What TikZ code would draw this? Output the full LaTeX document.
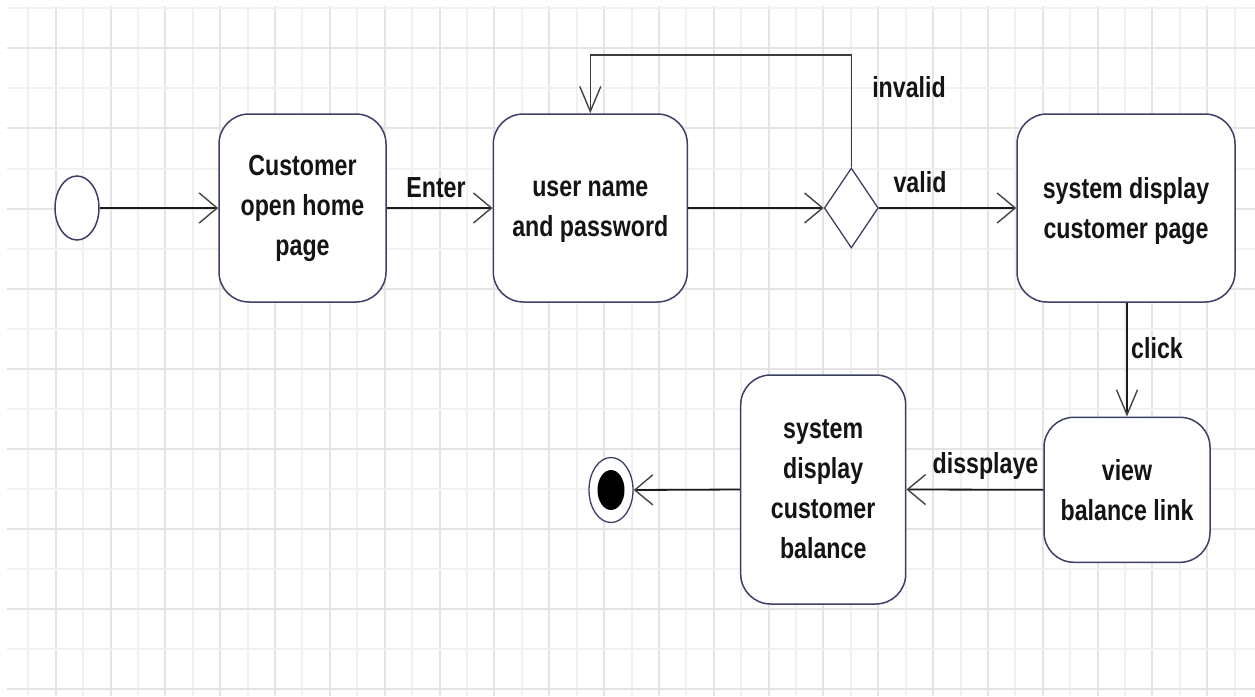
\documentclass[tikz,border=0pt]{standalone}
\usepackage{fontspec}
\newfontfamily\diagfont{Liberation Sans}[FakeStretch=0.8]
\usetikzlibrary{arrows.meta,shapes.geometric}

\definecolor{boxcol}{HTML}{3C4064}
\definecolor{linecol}{HTML}{1A1A1A}
\definecolor{tipcol}{HTML}{444444}
\definecolor{gridminor}{HTML}{F1F1F1}
\definecolor{gridmajor}{HTML}{E4E4E4}
\definecolor{textcol}{HTML}{141414}

\tikzset{
  activity/.style={draw=boxcol, line width=1.5pt, fill=white, rounded corners=30pt,
    align=center, inner sep=0pt, text=textcol,
    font=\diagfont\bfseries\fontsize{29}{40}\selectfont},
  lbl/.style={anchor=base, inner sep=0pt, text=textcol,
    font=\diagfont\bfseries\fontsize{29}{40}\selectfont},
  hflow/.style={draw=linecol, line width=1.8pt,
    -{Straight Barb[length=18pt,width=30pt,line width=1.4pt,color=tipcol]}},
  vflow/.style={draw=linecol, line width=1.6pt,
    -{Straight Barb[length=25pt,width=21pt,line width=1.4pt,color=tipcol]}},
  loopline/.style={draw=linecol!85, line width=1.4pt,
    -{Straight Barb[length=25pt,width=21pt,line width=1.4pt,color=tipcol]}},
  startstate/.style={ellipse, draw=boxcol, line width=1.5pt, fill=white,
    minimum width=44pt, minimum height=64pt, inner sep=0pt},
  endring/.style={ellipse, draw=boxcol, line width=1.3pt, fill=white,
    minimum width=44pt, minimum height=65pt, inner sep=0pt},
  enddot/.style={ellipse, fill=black, minimum width=27pt, minimum height=40pt, inner sep=0pt},
  choice/.style={diamond, draw=boxcol, line width=1.3pt, fill=white,
    minimum width=54pt, minimum height=80pt, inner sep=0pt},
}

\begin{document}
\begin{tikzpicture}[x=1pt,y=-1pt]
\useasboundingbox (0,0) rectangle (1255,696);
\fill[white] (0,0) rectangle (1255,696);

% background grid, lines snapped to whole units
\begin{scope}
  \clip (7,6) rectangle (1255,696);
  \foreach \k in {1,...,45} {
    \pgfmathsetmacro{\gx}{round(0.86+27.42*\k)}
    \ifodd\k
      \draw[gridminor, line width=2pt] (\gx,6) -- (\gx,696);
    \else
      \draw[gridmajor, line width=2pt] (\gx,6) -- (\gx,696);
    \fi
  }
  \foreach \j in {0,...,17} {
    \pgfmathsetmacro{\gy}{round(8.3+40.06*\j)}
    \ifodd\j
      \draw[gridmajor, line width=2pt] (7,\gy) -- (1255,\gy);
    \else
      \draw[gridminor, line width=2pt] (7,\gy) -- (1255,\gy);
    \fi
  }
\end{scope}

% states
\node[startstate] (start) at (77,208) {};
\node[activity, minimum width=167pt, minimum height=188pt] (home) at (302.5,208)
  {Customer\\open home\\page};
\node[activity, text height=64pt, minimum width=194pt, minimum height=188pt] (login) at (590.3,208)
  {user name\\and password};
\node[choice] (check) at (851.3,208) {};
\node[activity, text height=67pt, minimum width=218pt, minimum height=188pt] (custpage) at (1126,208)
  {system display\\customer page};
\node[activity, minimum width=166pt, minimum height=145pt] (viewlink) at (1127,489.8)
  {view\\balance link};
\node[activity, minimum width=165pt, minimum height=229pt] (balance) at (823.2,489.5)
  {system\\display\\customer\\balance};
\node[endring] (finish) at (611,490) {};
\node[enddot] at (finish.center) {};

\coordinate (looptop) at (0,55);

% transitions
\draw[hflow] (start.east) -- (home.west);
\draw[hflow] (home.east) -- (login.west);
\draw[hflow] (login.east) -- (check.west);
\draw[hflow] (check.east) -- (custpage.west);
\draw[loopline] (check.north) -- (check.north |- looptop) -| (login.north);
\draw[vflow] (custpage.south -| viewlink.north) -- (viewlink.north);
\draw[hflow] (viewlink.west) -- (balance.east);
\draw[hflow] (balance.west) -- (finish.east);

% guards and labels
\node[lbl] (lenter) at (436,197) {Enter};
\node[lbl] (lvalid) at (920,192) {valid};
\node[lbl] (linvalid) at (909,97) {invalid};
\node[lbl] (lclick) at (1157,358) {click};
\node[lbl] (ldisp) at (985.5,473) {dissplaye};
\end{tikzpicture}
\end{document}
